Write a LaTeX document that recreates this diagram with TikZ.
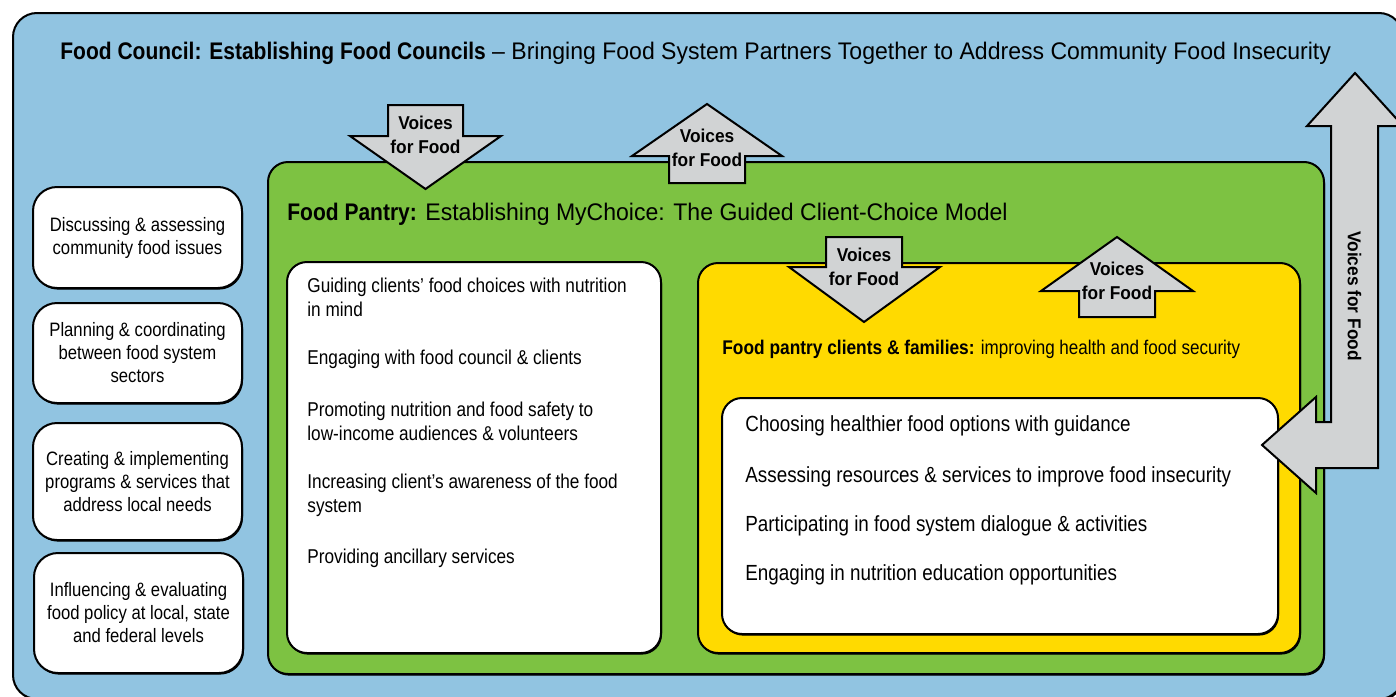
\documentclass[tikz,border=0pt]{standalone}
\usepackage{fontspec}
\setmainfont{Liberation Sans}[FakeStretch=0.86,BoldFeatures={FakeStretch=0.93}]
\newfontfamily\headfont{Liberation Sans}[Ligatures=TeX,FakeStretch=0.96,BoldFeatures={FakeStretch=0.875}]
\usepackage{tikz}
\usetikzlibrary{positioning,shadows}

\definecolor{councilblue}{RGB}{145,196,225}
\definecolor{pantrygreen}{RGB}{125,194,66}
\definecolor{clientyellow}{RGB}{255,218,0}
\definecolor{voicegray}{RGB}{209,211,212}

\tikzset{
  panel/.style={draw=black, line width=1pt, rounded corners=10pt, anchor=north west, inner sep=0pt,
    drop shadow={shadow xshift=0.5pt, shadow yshift=-0.8pt, opacity=1, fill=black}},
  task/.style={panel, fill=white, rounded corners=12pt, anchor=center, align=center,
    minimum width=104.5pt, font=\fontsize{9.7}{11.5}\selectfont},
  item/.style={anchor=west, align=left, inner sep=0pt, font=\fontsize{10}{12.3}\selectfont},
  head/.style={anchor=west, inner sep=0pt, font=\headfont\fontsize{12}{14}\selectfont},
  voice/.style={draw=black, line width=1pt, fill=voicegray, line join=miter},
  voicetext/.style={align=center, inner sep=0pt, font=\bfseries\fontsize{9.3}{12}\selectfont}
}

\begin{document}
\begin{tikzpicture}[x=0.5pt,y=-0.5pt]
\useasboundingbox (0,0) rectangle (1396,696);

% Food council panel
\node[panel, fill=councilblue, rounded corners=12pt, minimum width=695pt, minimum height=343pt] (council) at (12,12) {};
\node[head] (councilhead) at (60,53)
  {\textbf{Food Council: Establishing Food Councils} -- Bringing Food System Partners Together to Address Community Food Insecurity};

% Council tasks
\node[task, minimum height=50.5pt] (discuss) at (137.5,237.5) {Discussing \& assessing\\community food issues};
\node[task, minimum height=50pt]   (plan)    at (137.5,353)   {Planning \& coordinating\\between food system\\sectors};
\node[task, minimum height=58.5pt] (create)  at (137.5,481.5) {Creating \& implementing\\programs \& services that\\address local needs};
\node[task, minimum height=60pt]   (policy)  at (138.5,613)   {Influencing \& evaluating\\food policy at local, state\\and federal levels};

% Food pantry panel
\node[panel, fill=pantrygreen, minimum width=528pt, minimum height=256pt] (pantry) at (267,161) {};
\node[head] (pantryhead) at (287,214)
  {\textbf{Food Pantry:} Establishing MyChoice: The Guided Client-Choice Model};

\node[panel, fill=white, minimum width=187pt, minimum height=195.5pt] (services) at (286,261) {};
\node[item] (guide)    at (307,297.5) {Guiding clients’ food choices with nutrition\\in mind};
\node[item] (engage)   at (307,359)   {Engaging with food council \& clients};
\node[item] (promote)  at (307,421.5) {Promoting nutrition and food safety to\\low-income audiences \& volunteers};
\node[item] (aware)    at (307,495.5) {Increasing client’s awareness of the food\\system};
\node[item] (ancill)   at (307,558)   {Providing ancillary services};

% Clients and families panel
\node[panel, fill=clientyellow, minimum width=301pt, minimum height=195pt] (clients) at (697,262) {};
\node[anchor=west, inner sep=0pt, font=\fontsize{9.9}{12.5}\selectfont] (clientshead) at (722,349)
  {{\headfont\bfseries Food pantry clients \& families:} improving health and food security};

\node[panel, fill=white, minimum width=278pt, minimum height=118pt] (choices) at (721,397) {};
\node[item, font=\fontsize{10.95}{13}\selectfont] (choose)  at (745,426) {Choosing healthier food options with guidance};
\node[item, font=\fontsize{10.95}{13}\selectfont] (assess)  at (745,477) {Assessing resources \& services to improve food insecurity};
\node[item, font=\fontsize{10.95}{13}\selectfont] (partic)  at (745,526) {Participating in food system dialogue \& activities};
\node[item, font=\fontsize{10.95}{13}\selectfont] (educate) at (745,575) {Engaging in nutrition education opportunities};

% Voices for Food arrows
\draw[voice] (388,105)--(463,105)--(463,136)--(501,136)--(425.5,189)--(350,136)--(388,136)--cycle;
\node[voicetext] (voice1) at (425.5,135) {Voices\\for Food};

\draw[voice] (669,183)--(669,156)--(632,156)--(707,104)--(782,156)--(745,156)--(745,183)--cycle;
\node[voicetext] (voice2) at (707,148) {Voices\\for Food};

\draw[voice] (826,237)--(902,237)--(902,267)--(940,267)--(864,322)--(789,267)--(826,267)--cycle;
\node[voicetext] (voice3) at (864,267) {Voices\\for Food};

\draw[voice] (1079,317)--(1079,291)--(1041,291)--(1117,237)--(1193,291)--(1155,291)--(1155,317)--cycle;
\node[voicetext] (voice4) at (1117,281) {Voices\\for Food};

% big return arrow on the right
\draw[voice] (1355,73)--(1403,126)--(1378,126)--(1378,468)--(1316,468)--(1316,493)--(1262,445)
  --(1316,397)--(1316,422)--(1331,422)--(1331,126)--(1307,126)--cycle;
\node[voicetext, rotate=-90] (voice5) at (1354.5,296) {Voices for Food};

\end{tikzpicture}
\end{document}
